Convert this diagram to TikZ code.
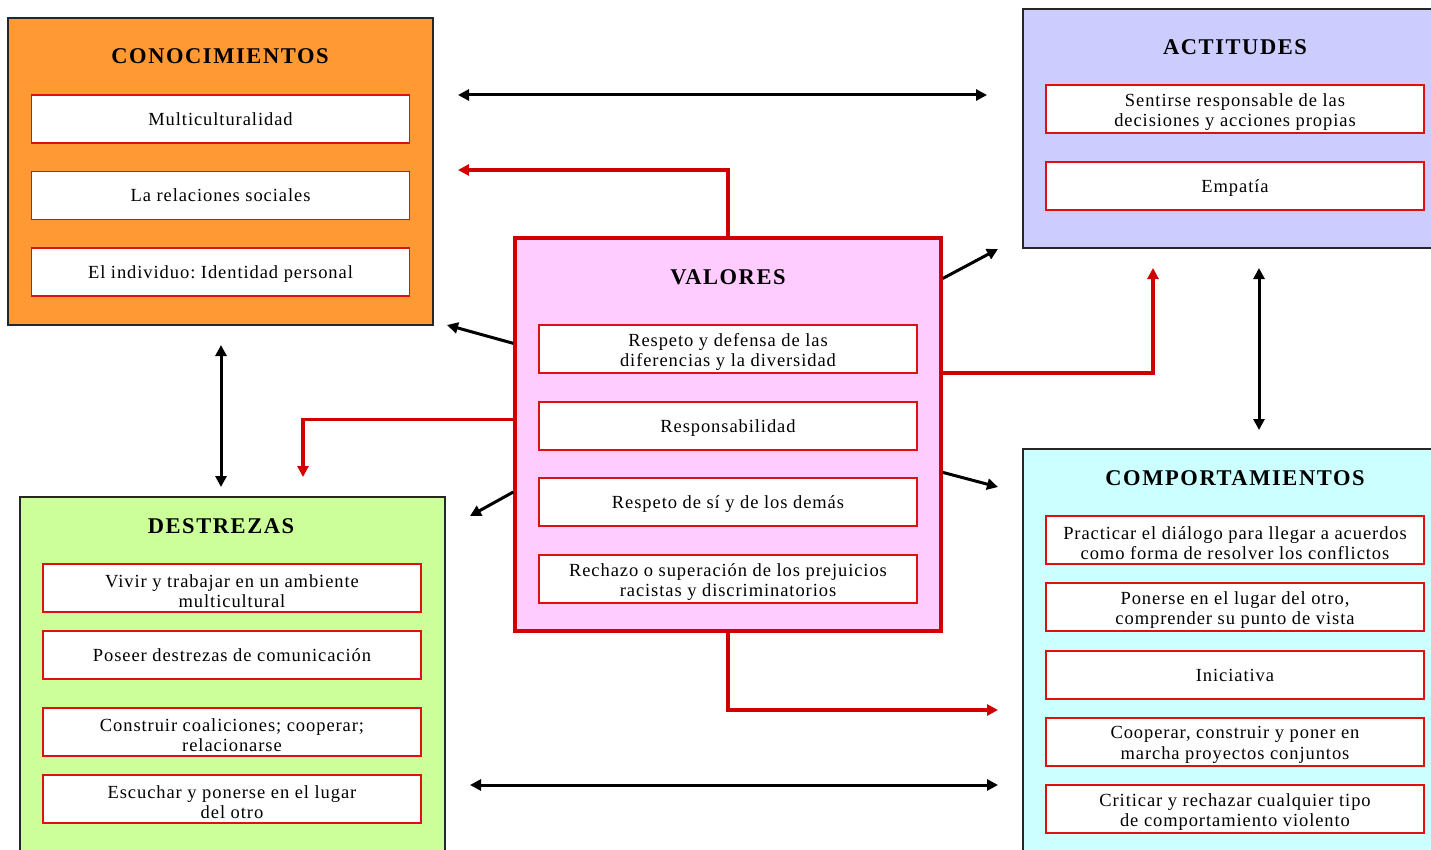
\documentclass[tikz,border=0pt]{standalone}
\usepackage{fontspec}
\setmainfont{Liberation Serif}
\newfontfamily\bodyfont[LetterSpace=5]{Liberation Serif}
\newfontfamily\titlefont[LetterSpace=7]{Liberation Serif}
\usetikzlibrary{arrows.meta}
\definecolor{conofill}{HTML}{FF9933}
\definecolor{actfill}{HTML}{CCCCFF}
\definecolor{valfill}{HTML}{FFCCFF}
\definecolor{desfill}{HTML}{CCFF99}
\definecolor{comfill}{HTML}{CCFFFF}
\definecolor{itemred}{HTML}{DD1111}
\definecolor{valred}{HTML}{D00000}
\frenchspacing
\begin{document}
\begin{tikzpicture}[x=1pt,y=-1pt,
  >={Triangle[length=11pt,width=11pt]},
  outerbox/.style={draw=black!85, line width=1.8pt, inner sep=0pt},
  valbox/.style={draw=valred, line width=3.5pt, inner sep=0pt, fill=valfill},
  itemfont/.style={font=\bodyfont\fontsize{18.5}{20.5}\selectfont},
  itembox/.style={draw=itemred, line width=1.8pt, fill=white, minimum width=378pt,
    minimum height=48pt, inner sep=0pt, align=center, itemfont,
    text height=13pt, text depth=0pt},
  twol/.style={label={[itemfont, align=center, inner sep=0pt, yshift=-3pt]center:{#1}}},
  boxtitle/.style={inner sep=0pt, font=\titlefont\bfseries\fontsize{22.5}{25}\selectfont},
  blk/.style={line width=3pt, draw=black},
  redline/.style={line width=3.5pt, draw=valred, color=valred}
]
\clip (0,0) rectangle (1431,850);

% outer boxes
\node[outerbox, fill=conofill, minimum width=425pt, minimum height=307pt] (con) at (220.5,171.5) {};
\node[outerbox, fill=actfill, minimum width=417pt, minimum height=239pt] (act) at (1231.5,128.5) {};
\node[valbox, minimum width=426pt, minimum height=393pt] (val) at (728,434.5) {};
\node[outerbox, fill=desfill, minimum width=425pt, minimum height=373pt] (des) at (232.5,683.5) {};
\node[outerbox, fill=comfill, minimum width=417pt, minimum height=421pt] (com) at (1231.5,659.5) {};

% titles
\node[boxtitle] (conT) at (220,56) {CONOCIMIENTOS};
\node[boxtitle] (actT) at (1235,47) {ACTITUDES};
\node[boxtitle] (valT) at (728,277) {VALORES};
\node[boxtitle] (desT) at (221,526) {DESTREZAS};
\node[boxtitle] (comT) at (1235,478) {COMPORTAMIENTOS};

% items
\node[itembox] (c1) at (220.5,119) {Multiculturalidad};
\node[itembox] (c2) at (220.5,195.5) {La relaciones sociales};
\node[itembox] (c3) at (220.5,272) {El individuo: Identidad personal};

\node[itembox, twol={Sentirse responsable de las\\decisiones y acciones propias}] (a1) at (1235,109) {};
\node[itembox] (a2) at (1235,186) {Empatía};

\node[itembox, twol={Respeto y defensa de las\\diferencias y la diversidad}] (v1) at (728,349) {};
\node[itembox] (v2) at (728,426) {Responsabilidad};
\node[itembox] (v3) at (728,502) {Respeto de sí y de los demás};
\node[itembox, twol={Rechazo o superación de los prejuicios\\racistas y discriminatorios}] (v4) at (728,579) {};

\node[itembox, twol={Vivir y trabajar en un ambiente\\multicultural}] (d1) at (232,588) {};
\node[itembox] (d2) at (232,655) {Poseer destrezas de comunicación};
\node[itembox, twol={Construir coaliciones; cooperar;\\relacionarse}] (d3) at (232,732) {};
\node[itembox, twol={Escuchar y ponerse en el lugar\\del otro}] (d4) at (232,799) {};

\node[itembox, twol={Practicar el diálogo para llegar a acuerdos\\como forma de resolver los conflictos}] (m1) at (1235,540) {};
\node[itembox, twol={Ponerse en el lugar del otro,\\comprender su punto de vista}] (m2) at (1235,607) {};
\node[itembox] (m3) at (1235,675) {Iniciativa};
\node[itembox, twol={Cooperar, construir y poner en\\marcha proyectos conjuntos}] (m4) at (1235,742) {};
\node[itembox, twol={Criticar y rechazar cualquier tipo\\de comportamiento violento}] (m5) at (1235,809) {};

% free ends of connectors
\coordinate (kTop) at (458,95);
\coordinate (aTop) at (987,95);
\coordinate (kRed) at (458,170);
\coordinate (kIn) at (447,325);
\coordinate (aIn) at (998,249);
\coordinate (aRed) at (1153,268);
\coordinate (aDown) at (1259,268);
\coordinate (cUp) at (1259,430);
\coordinate (kDown) at (221,345);
\coordinate (dUp) at (221,487);
\coordinate (dRed) at (303,477);
\coordinate (dIn) at (470,516);
\coordinate (cIn) at (998,487);
\coordinate (cRed) at (998,710);
\coordinate (dBot) at (470,785);
\coordinate (cBot) at (998,785);

% connectors
\draw[blk,<->] (kTop) -- (aTop);
\draw[blk,<->] (kDown) -- (dUp);
\draw[blk,<->] (aDown) -- (cUp);
\draw[blk,<->] (dBot) -- (cBot);
\draw[blk,->] (val.157.2) -- (kIn);
\draw[blk,->] (val.36.5) -- (aIn);
\draw[blk,->] (val.195.4) -- (dIn);
\draw[blk,->] (val.350.5) -- (cIn);
\draw[redline,->] (val.north) |- (kRed);
\draw[redline,->] (val.16.1) -| (aRed);
\draw[redline,->] (val.176.4) -| (dRed);
\draw[redline,->] (val.south) |- (cRed);
\end{tikzpicture}
\end{document}
